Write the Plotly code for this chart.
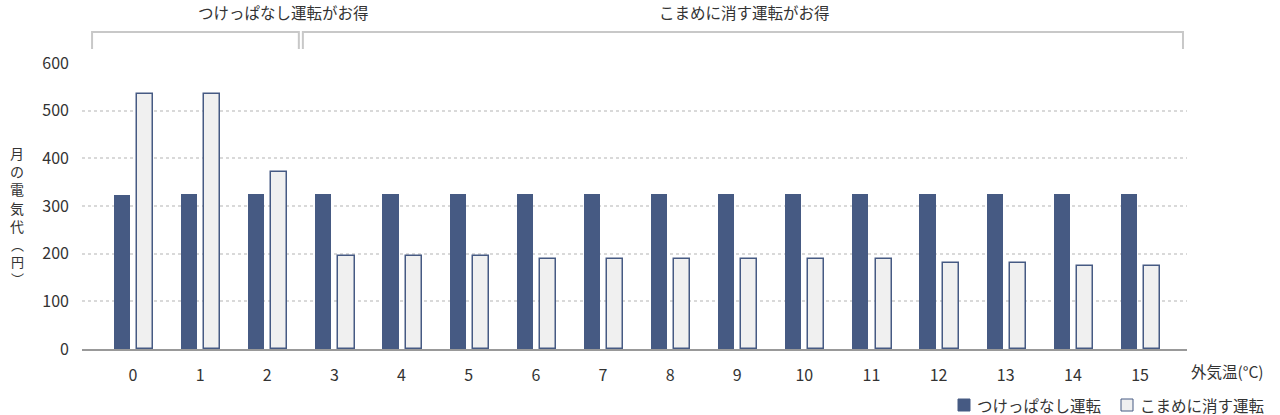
import plotly.graph_objects as go

temps = list(range(16))
tick_labels = [str(t) for t in temps]
always_on = [323, 325, 325, 325, 325, 325, 325, 325, 325, 325, 325, 325, 325, 325, 325, 325]
switch_off = [535, 535, 371, 195, 195, 195, 189, 189, 189, 189, 189, 189, 181, 181, 174, 174]
series_names = ["つけっぱなし運転", "こまめに消す運転"]
group_labels = ["つけっぱなし運転がお得", "こまめに消す運転がお得"]
y_title_top = ["月", "の", "電", "気", "代"]
y_title_bottom = ["︵", "円", "︶"]
x_title = "外気温(°C)"

DARK = "#465a83"
LIGHT = "#f0f0f0"
FONT = "Noto Sans CJK JP"
TXT = "#333333"
FS = 15.5

# page pixels (body margin removed via post_script)
L, R, T, B = 82, 1187, 63, 349
W, H = R - L, B - T


def px(x):
    return (x - L) / W


def py(y):
    return (B - y) / H


fig = go.Figure()
fig.add_trace(go.Bar(x=temps, y=always_on, name=series_names[0], width=0.24, offset=-0.285,
                     marker=dict(color=DARK, line=dict(color=DARK, width=0))))
fig.add_trace(go.Bar(x=temps, y=switch_off, name=series_names[1], width=0.24, offset=0.06,
                     marker=dict(color=LIGHT, line=dict(color=DARK, width=1.5))))


def bracket(x0, x1):
    fig.add_shape(type="path", xref="x", yref="paper",
                  path=f"M {x0},{py(49)} L {x0},{py(32)} L {x1},{py(32)} L {x1},{py(49)}",
                  line=dict(color="#c8c8c8", width=2))


bracket(-0.61, 2.47)
bracket(2.53, 15.64)

fig.add_annotation(text=group_labels[0], x=px(196), y=py(12), xref="paper", yref="paper",
                   showarrow=False, font=dict(size=FS, color=TXT, family=FONT), yanchor="middle")
fig.add_annotation(text=group_labels[1], x=px(744), y=py(12), xref="paper", yref="paper",
                   showarrow=False, font=dict(size=FS, color=TXT, family=FONT), yanchor="middle")

# vertical y-axis title
fig.add_annotation(text="<br>".join(y_title_top), x=px(17), y=py(189), xref="paper", yref="paper",
                   showarrow=False, font=dict(size=14, color=TXT, family=FONT),
                   xanchor="center", yanchor="middle")
fig.add_annotation(text="<br>".join(y_title_bottom), x=px(17), y=py(261), xref="paper", yref="paper",
                   showarrow=False, font=dict(size=13, color=TXT, family=FONT),
                   xanchor="center", yanchor="middle")

fig.add_annotation(text=x_title, x=px(1189), y=py(371), xref="paper", yref="paper", showarrow=False,
                   font=dict(size=FS, color=TXT, family=FONT), xanchor="left", yanchor="middle")

# legend drawn manually
legend_items = [(958, DARK, DARK, series_names[0]), (1121, LIGHT, DARK, series_names[1])]
for x0, fill, edge, name in legend_items:
    fig.add_shape(type="rect", xref="paper", yref="paper", x0=px(x0), x1=px(x0 + 12),
                  y0=py(411), y1=py(399), fillcolor=fill, line=dict(color=edge, width=1))
    fig.add_annotation(text=name, x=px(x0 + 17), y=py(405), xref="paper", yref="paper",
                       showarrow=False, font=dict(size=FS, color=TXT, family=FONT),
                       xanchor="left", yanchor="middle")

fig.update_layout(
    width=1280, height=415,
    margin=dict(l=L, r=1280 - R, t=T, b=415 - B, autoexpand=False),
    plot_bgcolor="white", paper_bgcolor="white",
    font=dict(family=FONT, size=FS, color=TXT),
    showlegend=False,
    bargap=0,
)
fig.update_xaxes(range=[-0.76, 15.70], tickmode="array", tickvals=temps, ticktext=tick_labels,
                 showgrid=False, showline=True, linecolor="#999", linewidth=2, ticks="",
                 ticklabelstandoff=11, zeroline=False, automargin=False,
                 tickfont=dict(size=16, color=TXT, family=FONT))
fig.update_yaxes(range=[0, 600], tickvals=[0, 100, 200, 300, 400, 500, 600],
                 showgrid=True, gridcolor="#d9d9d9", griddash="dot", gridwidth=1.5,
                 zeroline=False, showline=False, ticks="", ticklabelstandoff=12, automargin=False,
                 tickfont=dict(size=16, color=TXT, family=FONT))

fig.write_html("out.html", config={"displayModeBar": False},
               post_script="document.body.style.margin='0';")
